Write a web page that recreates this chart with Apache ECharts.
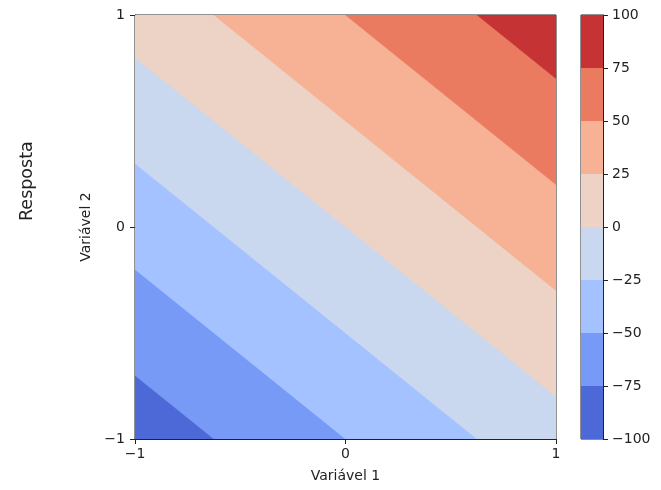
<!DOCTYPE html>
<html>
<head>
<meta charset="utf-8">
<script src="https://cdn.jsdelivr.net/npm/echarts@6/dist/echarts.min.js"></script>
<style>html,body{margin:0;padding:0;background:#fff}#c{width:661px;height:490px}</style>
</head>
<body>
<div id="c"></div>
<script>
// ---- data ----
const levels = [-100, -75, -50, -25, 0, 25, 50, 75, 100];
const bandColors = ['#4d68d7', '#779af7', '#a3c2ff', '#cad8ef', '#ecd3c5', '#f7b194', '#ea7b60', '#c53334'];
// contour lines (level boundaries) as start/end points in data coords
const lineLevels = [-75, -50, -25, 0, 25, 50, 75];
const lineStart = [[-1, -0.7], [-1, -0.2], [-1, 0.3], [-1, 0.8], [-0.625, 1], [0, 1], [0.625, 1]];
const lineEnd   = [[-0.625, -1], [0, -1], [0.625, -1], [1, -0.8], [1, -0.3], [1, 0.2], [1, 0.7]];
const xRange = [-1, 1];
const yRange = [-1, 1];

const FONT = 'DejaVu Sans';
const minusFmt = v => String(v).replace('-', '\u2212');

function clipHalf(poly, a, b) {
  const side = p => (b[0] - a[0]) * (p[1] - a[1]) - (b[1] - a[1]) * (p[0] - a[0]);
  const out = [];
  for (let i = 0; i < poly.length; i++) {
    const cur = poly[i], prev = poly[(i + poly.length - 1) % poly.length];
    const sc = side(cur), sp = side(prev);
    const inter = () => { const t = sp / (sp - sc); return [prev[0] + t * (cur[0] - prev[0]), prev[1] + t * (cur[1] - prev[1])]; };
    if (sc >= 0) { if (sp < 0) out.push(inter()); out.push(cur); }
    else if (sp >= 0) out.push(inter());
  }
  return out;
}
const square = [[xRange[0], yRange[0]], [xRange[1], yRange[0]], [xRange[1], yRange[1]], [xRange[0], yRange[1]]];
// region z >= level(i) for each band, painted bottom-up
const bandPolys = bandColors.map((c, i) => i === 0 ? square : clipHalf(square, lineStart[i - 1], lineEnd[i - 1]));

const chart = echarts.init(document.getElementById('c'), null, { renderer: 'canvas' });
const axisCommon = {
  axisLine: { show: true, onZero: false, lineStyle: { color: '#222', width: 1 } },
  axisTick: { show: true, inside: false, length: 5, lineStyle: { color: '#222', width: 1 } },
  axisLabel: { color: '#222', fontSize: 14, fontFamily: FONT, formatter: minusFmt },
  splitLine: { show: false }
};
chart.setOption({
  animation: false,
  grid: [
    { left: 135, top: 15, width: 421, height: 424, show: true, borderColor: '#222', borderWidth: 1, backgroundColor: 'transparent' },
    { left: 581, top: 15, width: 22, height: 424, show: true, borderColor: '#222', borderWidth: 1, backgroundColor: 'transparent' }
  ],
  xAxis: [
    Object.assign({}, axisCommon, {
      gridIndex: 0, type: 'value', min: xRange[0], max: xRange[1], interval: 1, position: 'bottom',
      name: 'Variável 1', nameLocation: 'middle', nameGap: 30,
      nameTextStyle: { color: '#222', fontSize: 14, fontFamily: FONT },
      axisLabel: Object.assign({}, axisCommon.axisLabel, { margin: 8 })
    }),
    { gridIndex: 1, type: 'value', min: 0, max: 1, show: false }
  ],
  yAxis: [
    Object.assign({}, axisCommon, {
      gridIndex: 0, type: 'value', min: yRange[0], max: yRange[1], interval: 1, position: 'left',
      name: 'Variável 2', nameLocation: 'middle', nameGap: 42, nameRotate: 90,
      nameTextStyle: { color: '#222', fontSize: 14, fontFamily: FONT },
      axisLabel: Object.assign({}, axisCommon.axisLabel, { margin: 10 })
    }),
    Object.assign({}, axisCommon, {
      gridIndex: 1, type: 'value', position: 'right', min: levels[0], max: levels[levels.length - 1], interval: 25,
      axisLabel: Object.assign({}, axisCommon.axisLabel, { margin: 9 })
    })
  ],
  graphic: [{
    type: 'text', rotation: Math.PI / 2, x: 18, y: 221,
    style: { text: 'Resposta', fontSize: 17.5, fontFamily: FONT, fill: '#222' }
  }],
  series: [
    {
      type: 'custom', xAxisIndex: 0, yAxisIndex: 0, clip: true,
      data: bandColors.map((c, i) => [i]),
      renderItem: (params, api) => {
        const i = params.dataIndex;
        const pts = bandPolys[i].map(p => api.coord(p));
        return { type: 'polygon', shape: { points: pts }, style: { fill: bandColors[i], stroke: bandColors[i], lineWidth: 0.5 } };
      }
    },
    {
      type: 'custom', xAxisIndex: 1, yAxisIndex: 1,
      data: bandColors.map((c, i) => [i]),
      renderItem: (params, api) => {
        const i = params.dataIndex;
        const p0 = api.coord([0, levels[i]]);
        const p1 = api.coord([1, levels[i + 1]]);
        return { type: 'rect', shape: { x: p0[0], y: p1[1], width: p1[0] - p0[0], height: p0[1] - p1[1] }, style: { fill: bandColors[i] } };
      }
    }
  ]
});
</script>
</body>
</html>
